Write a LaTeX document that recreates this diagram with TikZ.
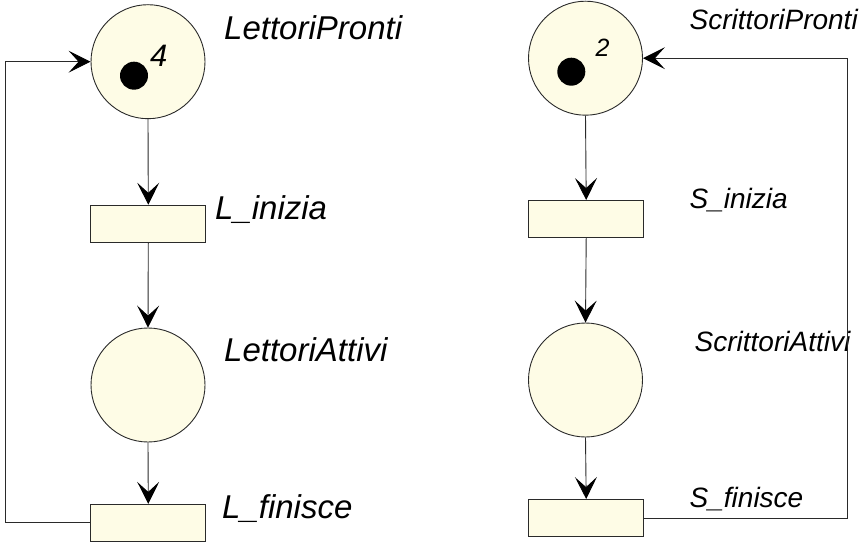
\documentclass[tikz,border=0pt]{standalone}
\usepackage{fontspec}
\setmainfont{Liberation Sans}
\usetikzlibrary{arrows.meta}
\definecolor{placefill}{HTML}{FEFCE6}
\definecolor{edge}{HTML}{2A2A2A}
\tikzset{
  place/.style={circle, draw=edge, fill=placefill, line width=0.9pt, minimum size=114pt, inner sep=0pt},
  trans/.style={rectangle, draw=edge, fill=placefill, line width=0.9pt, minimum width=115pt, minimum height=37pt, inner sep=0pt},
  arc/.style={draw=edge, line width=0.9pt, -{Stealth[length=22pt, width=22pt, inset=10pt, color=black]}},
  bigl/.style={anchor=base west, inner sep=0pt, font=\fontsize{33}{40}\selectfont\itshape},
  smalll/.style={anchor=base west, inner sep=0pt, font=\fontsize{28}{34}\selectfont\itshape},
  token/.style={circle, fill=black, minimum size=28pt, inner sep=0pt}
}
\begin{document}
\begin{tikzpicture}[x=1pt, y=-1pt]
\useasboundingbox (0,0) rectangle (866,545);
% left net
\node[place] (P1) at (148,61.7) {};
\node[token] (k1) at (134,75.7) {};
\node[anchor=base west, inner sep=0pt, font=\fontsize{31}{36}\selectfont\itshape] (n1) at (150,66.7) {4};
\node[trans] (T1) at (148.3,223.7) {};
\node[place] (P2) at (148,385) {};
\node[trans] (T2) at (148.3,522.8) {};
\node[bigl] (lP1) at (224,39.3) {LettoriPronti};
\node[bigl] (lT1) at (215,219) {L\_inizia};
\node[bigl] (lP2) at (224,361.3) {LettoriAttivi};
\node[bigl] (lT2) at (222,518) {L\_finisce};
\coordinate (lc) at (5.5,522.7);
\draw[arc] (P1.south) -- (T1.north);
\draw[arc] (T1.south) -- (P2.north);
\draw[arc] (P2.south) -- (T2.north);
\draw[arc] (T2.west) -- (T2.west -| lc) |- (P1.west);
% right net
\node[place] (P3) at (585.5,58.2) {};
\node[token] (k3) at (571.3,71.7) {};
\node[anchor=base west, inner sep=0pt, font=\fontsize{25}{30}\selectfont\itshape] (n3) at (595.5,56.7) {2};
\node[trans] (T3) at (586.2,219) {};
\node[place] (P4) at (585.5,380) {};
\node[trans] (T4) at (586.2,518) {};
\node[smalll] (lP3) at (689.5,29.3) {ScrittoriPronti};
\node[smalll] (lT3) at (689.5,208.3) {S\_inizia};
\node[smalll] (lP4) at (694.5,351.3) {ScrittoriAttivi};
\node[smalll] (lT4) at (689.5,507) {S\_finisce};
\coordinate (rc) at (847,517);
\draw[arc] (P3.south) -- (T3.north);
\draw[arc] (T3.south) -- (P4.north);
\draw[arc] (P4.south) -- (T4.north);
\draw[arc] (T4.east) -- (T4.east -| rc) |- (P3.east);
\end{tikzpicture}
\end{document}
